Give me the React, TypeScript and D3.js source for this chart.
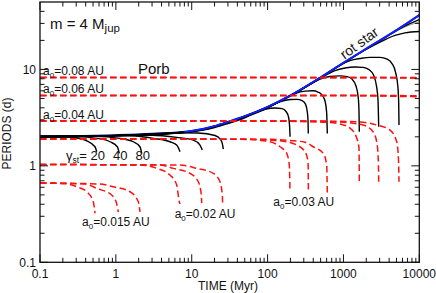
import React from "react";
import * as d3 from "d3";

type Pt = [number, number];

// ---------- axes ----------
const TIME_TICKS = [0.1, 1, 10, 100, 1000, 10000];
const TIME_LABELS = ["0.1", "1", "10", "100", "1000", "10000"];
const PERIOD_TICKS = [0.1, 1, 10];
const PERIOD_LABELS = ["0.1", "1", "10"];
const PERIOD_MAX = 50;
const GAMMA_ST = [20, 40, 80];

// ---------- stellar rotation without planet (blue) ----------
const ROT_STAR: Pt[] = [
  [0.1, 2.02], [1, 2.08], [3, 2.15], [10, 2.3], [20, 2.58], [30, 2.85], [50, 3.27],
  [100, 4.08], [200, 5.37], [500, 8.26], [1000, 11.7], [2000, 16.4], [5000, 25.5], [10000, 36.6],
];

// ---------- orbital periods (red dashed), one curve per gamma_st: 20, 40, 80 ----------
const PORB_008: Pt[][] = [
  [[0.1, 8.265], [3000, 8.24], [10000, 8.12]],
  [[0.1, 8.265], [10000, 8.2]],
  [[0.1, 8.265], [10000, 8.25]],
];
const PORB_006: Pt[][] = [
  [[0.1, 5.368], [1000, 5.36], [3000, 5.3], [10000, 5.2]],
  [[0.1, 5.368], [2000, 5.36], [10000, 5.27]],
  [[0.1, 5.368], [5000, 5.35], [10000, 5.33]],
];
const PORB_004: Pt[][] = [
  [[0.1, 2.922], [120, 2.91], [267.6, 2.879], [665, 2.811], [901, 2.713], [1220, 2.466], [1496, 1.942], [1604, 1.53], [1619, 0.663]],
  [[0.1, 2.922], [300, 2.91], [901, 2.845], [1811, 2.65], [2453, 2.26], [2745, 1.778], [2881, 1.148], [2916, 0.679]],
  [[0.1, 2.922], [600, 2.91], [1653, 2.845], [2745, 2.65], [4110, 2.35], [5037, 1.778], [5319, 1.148], [5401, 0.684]],
];
const PORB_003: Pt[][] = [
  [[0.1, 1.898], [30, 1.89], [58.7, 1.874], [107.6, 1.778], [145.8, 1.578], [178.7, 1.348], [193.3, 1.019], [197.5, 0.539]],
  [[0.1, 1.898], [50, 1.89], [107.6, 1.851], [197.5, 1.744], [242, 1.643], [311.4, 1.4], [342, 1.103], [345, 0.539]],
  [[0.1, 1.898], [100, 1.89], [197.5, 1.829], [311, 1.76], [400.6, 1.578], [542.7, 1.348], [601.6, 1.019], [612.8, 0.498]],
];
const PORB_002: Pt[][] = [
  [[0.1, 1.033], [2.08, 1.02], [3.455, 0.942], [5.17, 0.803], [6.34, 0.632], [6.86, 0.424], [7.01, 0.402]],
  [[0.1, 1.033], [3.82, 1.02], [5.72, 0.942], [9.49, 0.836], [12.21, 0.684], [13.38, 0.498], [13.54, 0.411]],
  [[0.1, 1.033], [7.01, 1.02], [11.63, 0.942], [19.25, 0.836], [23.6, 0.684], [25.3, 0.498], [25.61, 0.383]],
];
const PORB_0015: Pt[][] = [
  [[0.1, 0.665], [0.214, 0.651], [0.305, 0.607], [0.413, 0.539], [0.504, 0.424], [0.531, 0.322]],
  [[0.1, 0.665], [0.392, 0.648], [0.559, 0.584], [0.882, 0.498], [1.02, 0.411], [1.077, 0.332]],
  [[0.1, 0.665], [0.618, 0.648], [0.925, 0.607], [1.536, 0.539], [1.976, 0.424], [2.08, 0.334]],
];

// ---------- stellar rotation with planet (black), gamma_st: 20, 40, 80 ----------
const ROT_0015: Pt[][] = [
  [[0.1, 2.02], [0.2, 2.01], [0.275, 1.975], [0.413, 1.82], [0.531, 1.578], [0.559, 1.4]],
  [[0.1, 2.02], [0.3, 2.01], [0.559, 1.929], [0.837, 1.778], [1.045, 1.578], [1.11, 1.348]],
  [[0.1, 2.03], [0.5, 2.02], [1.134, 1.929], [1.698, 1.778], [2.08, 1.578], [2.19, 1.348]],
];
const ROT_002: Pt[][] = [
  [[0.1, 2.02], [1, 2.06], [1.8, 2.04], [3.115, 1.929], [5.17, 1.778], [6.34, 1.643], [7.01, 1.4]],
  [[0.1, 2.02], [1, 2.07], [3, 2.08], [6.34, 1.975], [10.49, 1.851], [12.86, 1.643], [13.79, 1.458]],
  [[0.1, 2.02], [1, 2.07], [3, 2.13], [7, 2.2], [12.1, 2.188], [20.3, 2.062], [24.3, 1.851], [25.4, 1.683], [26.1, 1.494]],
];
const ROT_003: Pt[][] = [
  [[0.1, 2.0], [1, 2.06], [3, 2.12], [10, 2.26], [20, 2.5], [30, 2.75], [50, 3.15], [68, 3.55], [92, 3.85], [125, 3.98], [155, 3.92], [175, 3.66], [189, 3.2], [195, 2.6], [198, 2.0]],
  [[0.1, 2.0], [1, 2.06], [3, 2.12], [10, 2.27], [20, 2.53], [30, 2.8], [50, 3.2], [100, 3.98], [145, 4.6], [200, 4.87], [245, 4.89], [285, 4.75], [316, 4.37], [334, 3.61], [341, 2.99], [344, 2.17]],
  [[0.1, 2.0], [1, 2.06], [3, 2.12], [10, 2.28], [20, 2.55], [30, 2.82], [50, 3.23], [100, 4.02], [170, 4.99], [230, 5.62], [311, 5.96], [400, 6.01], [462, 5.82], [522, 5.42], [572, 4.7], [600, 3.61], [613, 2.17]],
];
const ROT_004: Pt[][] = [
  [[0.1, 2.0], [1, 2.06], [3, 2.13], [10, 2.28], [20, 2.56], [30, 2.83], [50, 3.25], [100, 4.05], [200, 5.3], [362, 7.0], [491, 7.94], [665, 8.43], [901, 8.57], [1114, 8.43], [1297, 7.94], [1464, 6.72], [1570, 5.05], [1604, 3.61], [1619, 2.26]],
  [[0.1, 2.0], [1, 2.06], [3, 2.13], [10, 2.28], [20, 2.56], [30, 2.83], [50, 3.25], [100, 4.05], [200, 5.32], [500, 8.1], [774, 9.73], [1048, 10.33], [1420, 10.58], [1811, 10.5], [2173, 9.96], [2490, 8.74], [2728, 6.72], [2855, 4.81], [2916, 2.54]],
  [[0.1, 2.0], [1, 2.06], [3, 2.13], [10, 2.28], [20, 2.57], [30, 2.84], [50, 3.26], [100, 4.06], [200, 5.34], [500, 8.18], [901, 11.1], [1220, 12.35], [1653, 12.96], [2239, 13.33], [3034, 13.33], [3751, 12.8], [4367, 11.5], [4857, 9.39], [5208, 6.72], [5351, 4.48], [5401, 2.65]],
];
const ROT_WIDE: Pt[][] = [
  [[0.1, 2.0], [1, 2.06], [3, 2.13], [10, 2.29], [20, 2.57], [30, 2.84], [50, 3.26], [100, 4.07], [200, 5.36], [500, 8.24], [1000, 11.6], [1924, 15.9], [3034, 19.2], [4783, 22.5], [6478, 23.9], [10000, 24.7]],
  [[0.1, 2.0], [1, 2.07], [3, 2.14], [10, 2.29], [20, 2.57], [30, 2.84], [50, 3.26], [100, 4.07], [200, 5.36], [500, 8.25], [1000, 11.65], [2000, 16.3], [3530, 21.4], [5567, 26.5], [7541, 29.8], [10000, 32.9]],
];
const ROT_WIDE_GREY: Pt[] = [
  [1000, 11.65], [2000, 16.3], [3530, 21.3], [5567, 26.0], [7541, 28.8], [10000, 31.2],
];

const FONT = "'Liberation Sans', Arial, Helvetica, sans-serif";
const W = 436;
const H = 293;
const X0 = 40;
const X1 = 419.3;
const Y0 = 262.3;
const Y1 = 2;

export default function App() {
  const x = d3.scaleLog().domain([TIME_TICKS[0], TIME_TICKS[TIME_TICKS.length - 1]]).range([X0, X1]);
  const y = d3.scaleLog().domain([PERIOD_TICKS[0], PERIOD_MAX]).range([Y0, Y1]);
  const line = d3
    .line<Pt>()
    .x((d) => x(d[0]))
    .y((d) => y(d[1]))
    .curve(d3.curveMonotoneX);

  const xMinor: number[] = [];
  TIME_TICKS.slice(0, -1).forEach((d) => {
    for (let k = 2; k <= 9; k++) xMinor.push(d * k);
  });
  const yMinor: number[] = [];
  PERIOD_TICKS.forEach((d) => {
    for (let k = 2; k <= 9; k++) if (d * k < PERIOD_MAX) yMinor.push(d * k);
  });

  const MAJ = 8;
  const MIN = 4.5;
  const axisColor = "#111";

  const porbAll = [PORB_008, PORB_006, PORB_004, PORB_003, PORB_002, PORB_0015];
  const rotAll = [ROT_0015, ROT_002, ROT_003, ROT_004, ROT_WIDE];

  const red = "#ff1010";
  const blue = "#1020ff";
  const sub = (s: string, size = 8) => (
    <tspan fontSize={size} dy={3}>
      {s}
    </tspan>
  );

  const a0Label = (val: string, xx: number, yy: number, anchor: "start" | "middle") => (
    <text x={xx} y={yy} fontSize={12} textAnchor={anchor} fill="#111">
      a{sub("0")}
      <tspan dy={-3}>={val} AU</tspan>
    </text>
  );

  const blueFrom = x(8);

  return (
    <svg
      width={W}
      height={H}
      viewBox={`0 0 ${W} ${H}`}
      style={{ position: "absolute", left: 0, top: 0, background: "#fff" }}
      fontFamily={FONT}
    >
      <defs>
        <clipPath id="plot">
          <rect x={X0} y={Y1} width={X1 - X0} height={Y0 - Y1} />
        </clipPath>
        <clipPath id="blueTop">
          <rect x={blueFrom} y={Y1} width={X1 - blueFrom} height={Y0 - Y1} />
        </clipPath>
      </defs>
      <rect width={W} height={H} fill="#fff" />

      <g clipPath="url(#plot)" fill="none">
        <path d={line(ROT_STAR) || ""} stroke={blue} strokeWidth={2} />
        <path d={line(ROT_WIDE_GREY) || ""} stroke="#aaa" strokeWidth={1} />
        {rotAll.map((set, i) =>
          set.map((c, j) => (
            <path key={`r${i}-${j}`} d={line(c) || ""} stroke="#000" strokeWidth={1.4} />
          ))
        )}
      </g>
      <g clipPath="url(#blueTop)" fill="none">
        <path d={line(ROT_STAR) || ""} stroke={blue} strokeWidth={1.8} />
      </g>
      <g clipPath="url(#plot)" fill="none">
        {porbAll.map((set, i) =>
          set.map((c, j) => (
            <path
              key={`p${i}-${j}`}
              d={line(c) || ""}
              stroke={red}
              strokeWidth={1.5}
              strokeDasharray="6.5,3.5"
            />
          ))
        )}
      </g>

      {/* frame */}
      <rect x={X0} y={Y1} width={X1 - X0} height={Y0 - Y1} fill="none" stroke={axisColor} strokeWidth={1.3} />

      {/* ticks */}
      <g stroke={axisColor} strokeWidth={1}>
        {TIME_TICKS.map((t) => (
          <g key={`xt${t}`}>
            <line x1={x(t)} x2={x(t)} y1={Y0} y2={Y0 - MAJ} />
            <line x1={x(t)} x2={x(t)} y1={Y1} y2={Y1 + MAJ} />
          </g>
        ))}
        {xMinor.map((t) => (
          <g key={`xm${t}`}>
            <line x1={x(t)} x2={x(t)} y1={Y0} y2={Y0 - MIN} />
            <line x1={x(t)} x2={x(t)} y1={Y1} y2={Y1 + MIN} />
          </g>
        ))}
        {PERIOD_TICKS.map((p) => (
          <g key={`yt${p}`}>
            <line x1={X0} x2={X0 + MAJ} y1={y(p)} y2={y(p)} />
            <line x1={X1} x2={X1 - MAJ} y1={y(p)} y2={y(p)} />
          </g>
        ))}
        {yMinor.map((p) => (
          <g key={`ym${p}`}>
            <line x1={X0} x2={X0 + MIN} y1={y(p)} y2={y(p)} />
            <line x1={X1} x2={X1 - MIN} y1={y(p)} y2={y(p)} />
          </g>
        ))}
      </g>

      {/* tick labels */}
      <g fontSize={12} fill="#111">
        {TIME_TICKS.map((t, i) => (
          <text key={`xl${t}`} x={x(t)} y={277.5} textAnchor="middle">
            {TIME_LABELS[i]}
          </text>
        ))}
        {PERIOD_TICKS.map((p, i) => (
          <text key={`yl${p}`} x={36} y={y(p) + 4.3} textAnchor="end">
            {PERIOD_LABELS[i]}
          </text>
        ))}
      </g>

      {/* axis titles */}
      <text x={228} y={290} fontSize={12} textAnchor="middle" fill="#111">
        TIME (Myr)
      </text>
      <text transform="translate(11,133.5) rotate(-90)" fontSize={12} textAnchor="middle" fill="#111">
        PERIODS (d)
      </text>

      {/* annotations */}
      <text x={50} y={28.5} fontSize={15} fill="#111">
        m = 4 M
        <tspan fontSize={11.5} dy={3}>
          jup
        </tspan>
      </text>
      <text x={138} y={74} fontSize={15} fill="#111">
        Porb
      </text>
      {a0Label("0.08", x(0.1) + 3, y(PORB_008[0][0][1]) - 2, "start")}
      {a0Label("0.06", x(0.1) + 3, y(PORB_006[0][0][1]) - 2, "start")}
      {a0Label("0.04", x(0.1) + 3, y(PORB_004[0][0][1]) - 2, "start")}
      {a0Label("0.015", x(1.0), 226, "middle")}
      {a0Label("0.02", x(15), 218, "middle")}
      {a0Label("0.03", x(300), 206, "middle")}

      <text x={66} y={160} fontSize={13} fill="#111">
        γ
        <tspan fontSize={8.5} dy={3}>
          st
        </tspan>
        <tspan dy={-3}>=</tspan>
      </text>
      {GAMMA_ST.map((g, i) => {
        const c = ROT_0015[i];
        return (
          <text key={`g${g}`} x={x(c[c.length - 1][0]) + 1} y={160} fontSize={13} textAnchor="middle" fill="#111">
            {g}
          </text>
        );
      })}

      <text transform="translate(362,47) rotate(-36)" fontSize={14} textAnchor="middle" fill="#111">
        rot star
      </text>
    </svg>
  );
}
